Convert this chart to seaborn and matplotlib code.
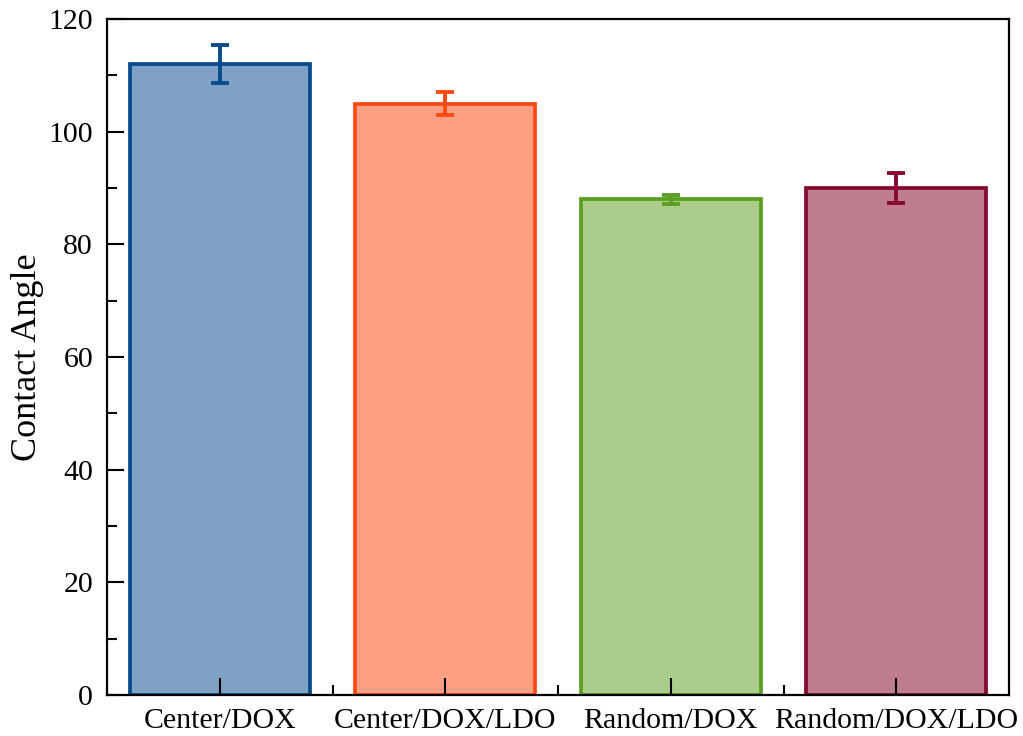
import matplotlib
matplotlib.use("Agg")
import matplotlib.pyplot as plt
import seaborn as sns
import pandas as pd
from matplotlib.ticker import MultipleLocator, FixedLocator

categories = ["Center/DOX", "Center/DOX/LDO", "Random/DOX", "Random/DOX/LDO"]
values = [112.0, 105.0, 88.0, 90.0]
errors = [3.4, 2.0, 0.8, 2.7]
face_colors = ["#7FA1C4", "#FFA084", "#ABCD8B", "#BE7E8E"]
edge_colors = ["#0A4A8C", "#FF4A14", "#5B9E21", "#85072F"]

sns.set_theme(style="white")
plt.rcParams['font.family'] = ['Liberation Serif', 'DejaVu Serif']
plt.rcParams['text.color'] = 'black'
plt.rcParams['axes.labelcolor'] = 'black'
plt.rcParams['xtick.color'] = 'black'
plt.rcParams['ytick.color'] = 'black'

df = pd.DataFrame({"cat": categories, "val": values})

fig = plt.figure(figsize=(10.23, 7.36), dpi=100)
ax = fig.add_axes([107/1023, 1-695/736, (1009-107)/1023, (695-19)/736])

sns.barplot(data=df, x="cat", y="val", hue="cat", palette=face_colors,
            legend=False, width=0.8, ax=ax, errorbar=None, saturation=1)
for p, ec in zip(ax.patches, edge_colors):
    p.set_edgecolor(ec)
    p.set_linewidth(2.7)
for i, (v, e, ec) in enumerate(zip(values, errors, edge_colors)):
    ax.errorbar(i, v, yerr=e, color=ec, capsize=6.5, capthick=2.8, elinewidth=2.8, zorder=5)

ax.set_axisbelow(False)
ax.set_xlim(-0.5, 3.5)
ax.set_ylim(0, 120)
ax.yaxis.set_major_locator(MultipleLocator(20))
ax.yaxis.set_minor_locator(MultipleLocator(10))
ax.xaxis.set_minor_locator(FixedLocator([0.5, 1.5, 2.5]))
ax.tick_params(axis='both', which='both', direction='in', top=False, right=False,
               labelsize=21.5, color='black', labelcolor='black', width=1.5)
ax.tick_params(axis='both', which='major', length=12, left=True, bottom=True)
ax.tick_params(axis='both', which='minor', length=7, left=True, bottom=True)
ax.tick_params(axis='x', which='major', pad=9)
ax.tick_params(axis='y', which='major', pad=10)
for s in ax.spines.values():
    s.set_color('black')
    s.set_linewidth(1.6)
ax.set_xlabel("")
ax.set_ylabel("Contact Angle", fontsize=26, labelpad=3, color='black')

fig.savefig("out.png", dpi=100)
